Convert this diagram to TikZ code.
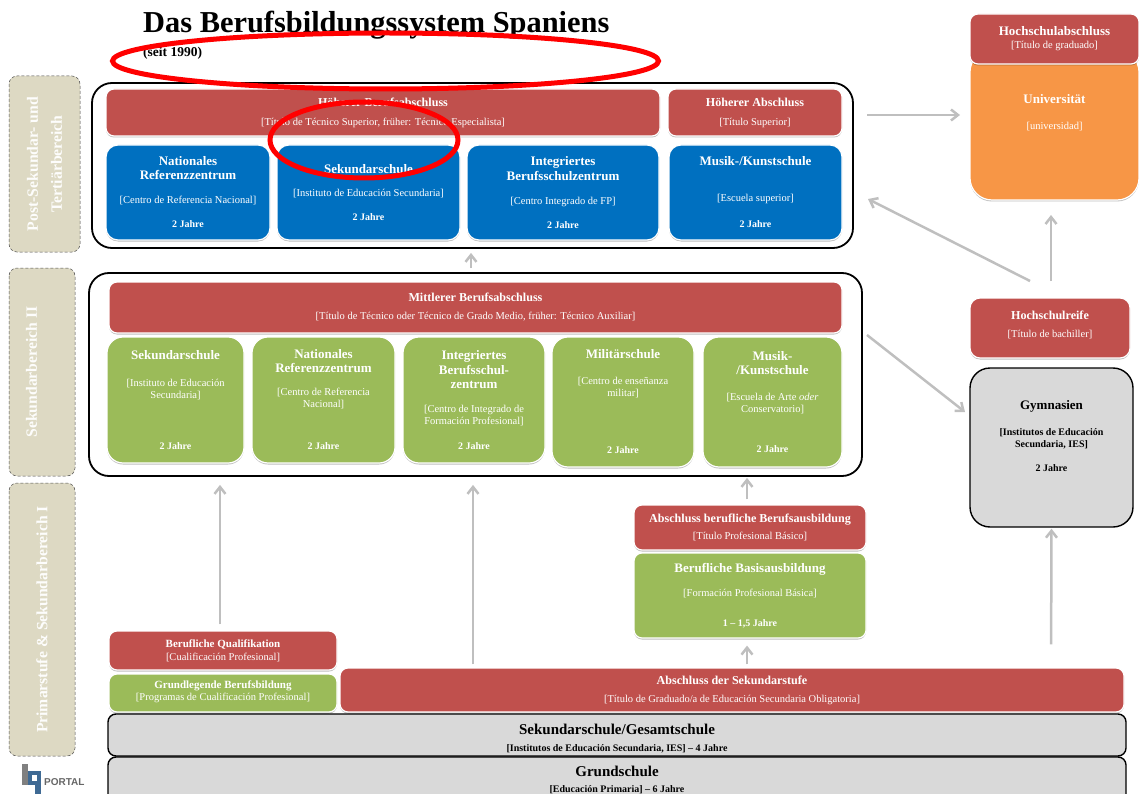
\documentclass[tikz,border=0pt]{standalone}
\usepackage{fontspec}
\setmainfont{Liberation Serif}
\setsansfont{Liberation Sans}
\usepackage{tikz}
\usetikzlibrary{shapes.geometric,arrows.meta,shadows}
\definecolor{rotbox}{HTML}{C0504D}
\definecolor{blaubox}{HTML}{0070C0}
\definecolor{gruenbox}{HTML}{9BBB59}
\definecolor{orangebox}{HTML}{F79646}
\definecolor{graubox}{HTML}{D9D9D9}
\definecolor{sandbox}{HTML}{DDD9C3}
\definecolor{pfeil}{HTML}{BFBFBF}
\definecolor{logoblau}{HTML}{3F6A94}
\newcommand{\hd}[1]{{\fontsize{13}{15}\selectfont\bfseries #1}}
\newcommand{\hr}[1]{{\fontsize{12.1}{14}\selectfont\bfseries #1}}
\newcommand{\hg}[1]{{\fontsize{15}{17}\selectfont\bfseries #1}}
\newcommand{\hk}[1]{{\fontsize{11}{12}\selectfont\bfseries #1}}
\newcommand{\sm}[1]{{\fontsize{10.5}{12}\selectfont #1}}
\newcommand{\jr}[1]{{\fontsize{10}{12}\selectfont\bfseries #1}}

\begin{document}
\begin{tikzpicture}[
    x=1pt, y=-1pt,
    box/.style={rectangle, rounded corners=#1, draw=white, line width=1.2pt, text=white, align=center, inner sep=0pt,
        font=\fontsize{10}{12}\selectfont,
        drop shadow={shadow xshift=0pt, shadow yshift=-1.5pt, opacity=0.25, fill=black}},
    box/.default=8pt,
    rotbox/.style={box, fill=rotbox},
    blaubox/.style={box=12pt, fill=blaubox},
    gruenbox/.style={box=16pt, fill=gruenbox},
    graubox/.style={rectangle, rounded corners=#1, draw=black, line width=1.4pt, fill=graubox, text=black, align=center, inner sep=0pt,
        font=\fontsize{10}{12}\selectfont},
    graubox/.default=8pt,
    rahmen/.style={rectangle, rounded corners=20pt, draw=black, line width=1.8pt, fill=white, inner sep=0pt},
    stufe/.style={rectangle, rounded corners=8pt, draw=black!70, densely dashed, line width=0.5pt, fill=sandbox, rotate=90,
        text=white!95!sandbox, align=center, inner sep=0pt, font=\fontsize{15.7}{21}\selectfont\bfseries},
    arrow/.style={-{Straight Barb[length=7pt,width=11pt]}, line width=2.5pt, draw=pfeil},
    kringel/.style={ellipse, draw=red, line width=5pt, inner sep=0pt}
]
    \useasboundingbox (0,0) rectangle (1139,794);
    \clip (0,0) rectangle (1139,794);

    % Titel
    \node[anchor=west, inner sep=0pt, font=\fontsize{30.4}{32}\selectfont\bfseries] (titel) at (143,25) {Das Berufsbildungssystem Spaniens};
    \node[anchor=west, inner sep=0pt, font=\fontsize{13.5}{15}\selectfont\bfseries] (seit) at (143,53) {(seit 1990)};

    % Stufen
    \node[stufe, minimum width=176pt, minimum height=71pt] (stufeA) at (44.5,164) {Post-Sekundar- und\\[3pt]Tertiärbereich};
    \node[stufe, minimum width=208pt, minimum height=66pt] (stufeB) at (42,372) {Sekundarbereich II\\~};
    \node[stufe, minimum width=273pt, minimum height=66pt] (stufeC) at (42,619.5) {Primarstufe \& Sekundarbereich I};

    % Rahmen
    \node[rahmen, minimum width=761pt, minimum height=165pt] (rahmenA) at (472.5,165.5) {};
    \node[rahmen, minimum width=773pt, minimum height=203pt] (rahmenB) at (475.5,374.5) {};

    % Oberer Block
    \node[rotbox, minimum width=554pt, minimum height=47pt] (hoeherBeruf) at (383,112.5) {\hr{Höherer Berufsabschluss}\\[7pt]\sm{[Título de Técnico Superior, früher: Técnico Especialista]}};
    \node[rotbox, minimum width=174pt, minimum height=47pt] (hoeherAbs) at (755,112.5) {\hr{Höherer Abschluss}\\[7pt]\sm{[Título Superior]}};
    \node[blaubox, minimum width=164pt, minimum height=95pt] (blauA) at (188,192.5) {\hd{Nationales}\\[2pt]\hd{Referenzzentrum}\\[12pt]\sm{[Centro de Referencia Nacional]}\\[12pt]\jr{2 Jahre}};
    \node[blaubox, minimum width=183pt, minimum height=95pt] (blauB) at (368.5,192.5) {\hd{Sekundarschule}\\[11pt]\sm{[Instituto de Educación Secundaria]}\\[12pt]\jr{2 Jahre}};
    \node[blaubox, minimum width=192pt, minimum height=95pt] (blauC) at (563,192.5) {\hd{Integriertes}\\[2pt]\hd{Berufsschulzentrum}\\[12pt]\sm{[Centro Integrado de FP]}\\[12pt]\jr{2 Jahre}};
    \node[blaubox, minimum width=173pt, minimum height=95pt] (blauD) at (755.5,192.5) {\hd{Musik-/Kunstschule}\\[24pt]\sm{[Escuela superior]}\\[14pt]\jr{2 Jahre}};

    % Mittlerer Block
    \node[rotbox, minimum width=733pt, minimum height=51pt] (mittel) at (475.5,307.5) {\hr{Mittlerer Berufsabschluss}\\[6pt]\sm{[Título de Técnico oder Técnico de Grado Medio, früher: Técnico Auxiliar]}};
    \node[gruenbox, minimum width=137pt, minimum height=126pt] (gruenA) at (175.5,400) {\hd{Sekundarschule}\\[15pt]\sm{[Instituto de Educación}\\\sm{Secundaria]}\\[39pt]\jr{2 Jahre}};
    \node[gruenbox, minimum width=143pt, minimum height=126pt] (gruenB) at (323.5,400) {\hd{Nationales}\\[2pt]\hd{Referenzzentrum}\\[11pt]\sm{[Centro de Referencia}\\\sm{Nacional]}\\[30pt]\jr{2 Jahre}};
    \node[gruenbox, minimum width=142pt, minimum height=126pt] (gruenC) at (474,400) {\hd{Integriertes}\\[2pt]\hd{Berufsschul-}\\[2pt]\hd{zentrum}\\[12pt]\sm{[Centro de Integrado de}\\\sm{Formación Profesional]}\\[13pt]\jr{2 Jahre}};
    \node[gruenbox, minimum width=142pt, minimum height=130pt] (gruenD) at (623,402) {\hd{Militärschule}\\[14pt]\sm{[Centro de enseñanza}\\\sm{militar]}\\[45pt]\jr{2 Jahre}};
    \node[gruenbox, minimum width=139pt, minimum height=130pt] (gruenE) at (772.5,402) {\hd{Musik-}\\[2pt]\hd{/Kunstschule}\\[14pt]\sm{[Escuela de Arte \textit{oder}}\\\sm{Conservatorio]}\\[28pt]\jr{2 Jahre}};

    % Rechte Spalte
    \node[box=22pt, fill=orangebox, minimum width=169pt, minimum height=150pt] (uni) at (1054.5,125) {\hd{Universität}\\[14pt]\sm{[universidad]}\\[14pt]~};
    \node[rotbox, minimum width=169pt, minimum height=50pt] (hochAbs) at (1054.5,39) {\hd{Hochschulabschluss}\\[1pt]\sm{[Título de graduado]}};
    \node[rotbox, minimum width=160pt, minimum height=60pt, rounded corners=10pt] (reife) at (1050,328) {\hr{Hochschulreife}\\[6pt]\sm{[Título de bachiller]}\\[-4pt]~};
    \node[graubox=20pt, minimum width=163pt, minimum height=159pt] (gym) at (1051.5,447.5) {\hd{Gymnasien}\\[14pt]\jr{[Institutos de Educación}\\\jr{Secundaria, IES]}\\[12pt]\jr{2 Jahre}\\[12pt]~};

    % Berufliche Basis
    \node[rotbox, minimum width=232pt, minimum height=45pt] (basisAbs) at (750,527.5) {\hr{Abschluss berufliche Berufsausbildung}\\[5pt]\sm{[Título Profesional Básico]}};
    \node[box, fill=gruenbox, minimum width=232pt, minimum height=85pt] (basis) at (750,595.5) {\hd{Berufliche Basisausbildung}\\[12pt]\sm{[Formación Profesional Básica]}\\[18pt]\jr{1 – 1,5 Jahre}};

    % Untere Reihen
    \node[graubox, minimum width=1018pt, minimum height=42pt] (sek) at (617,735) {~\\[5pt]\hg{Sekundarschule/Gesamtschule}\\[5pt]\jr{[Institutos de Educación Secundaria, IES] – 4 Jahre}};
    \node[graubox, minimum width=1018pt, minimum height=46pt] (grund) at (617,780) {\hg{Grundschule}\\[4pt]\jr{[Educación Primaria] – 6 Jahre}};
    \node[rotbox, minimum width=228pt, minimum height=39pt] (qual) at (223,650.5) {\hk{Berufliche Qualifikation}\\[1pt]\sm{[Cualificación Profesional]}};
    \node[box, fill=gruenbox, minimum width=228pt, minimum height=38pt] (grundBeruf) at (223,693) {\hk{Grundlegende Berufsbildung}\\\sm{[Programas de Cualificación Profesional]}\\[-8pt]~};
    \node[rotbox, minimum width=784pt, minimum height=44pt] (sekAbs) at (732,690) {\hr{Abschluss der Sekundarstufe}\\[6pt]\sm{[Título de Graduado/a de Educación Secundaria Obligatoria]}};

    % Logo
    \fill[black!50] (22,764) rectangle (28,785);
    \fill[logoblau] (28,771) rectangle (41,785);
    \fill[logoblau] (35,771) rectangle (41,794);
    \fill[white] (32,775) rectangle (37,781);
    \node[anchor=west, inner sep=0pt, text=black!60, font=\sffamily\fontsize{10}{11}\selectfont\bfseries] (portal) at (44,782) {PORTAL};

    % Pfeile
    \coordinate (pfeilA) at (960,115);
    \coordinate (pfeilB) at (868,199);
    \coordinate (pfeilC) at (1051,215);
    \coordinate (pfeilD) at (965,412);
    \coordinate (startA) at (867,115);
    \coordinate (startB) at (1030,281);
    \coordinate (startC) at (1051,281);
    \coordinate (startD) at (867,335);
    \draw[arrow] (startA) -- (pfeilA);
    \draw[arrow] (startB) -- (pfeilB);
    \draw[arrow] (startC) -- (pfeilC);
    \draw[arrow] (startD) -- (pfeilD);
    \draw[arrow, shorten <=4pt, shorten >=4pt] (rahmenB.north -| 471,273) -- (rahmenA.south -| 471,248);
    \draw[arrow, shorten <=6pt, shorten >=8pt] (qual.north -| 220,631) -- (rahmenB.south -| 220,476);
    \draw[arrow, shorten <=3pt, shorten >=8pt] (sekAbs.north -| 473,668) -- (rahmenB.south -| 473,476);
    \draw[arrow, shorten <=5pt, shorten >=1pt] (basisAbs.north -| 747,505) -- (rahmenB.south -| 747,476);
    \draw[arrow, shorten <=3pt, shorten >=7pt] (sekAbs.north -| 747,668) -- (basis.south -| 747,638);
    \draw[arrow, shorten <=23pt, shorten >=1pt] (sekAbs.north -| 1051,668) -- (gym.south);

    % Kringel
    \node[kringel, minimum width=546pt, minimum height=56pt] (kringelA) at (385.5,61) {};
    \node[kringel, minimum width=188pt, minimum height=76pt] (kringelB) at (364,140) {};
\end{tikzpicture}
\end{document}
